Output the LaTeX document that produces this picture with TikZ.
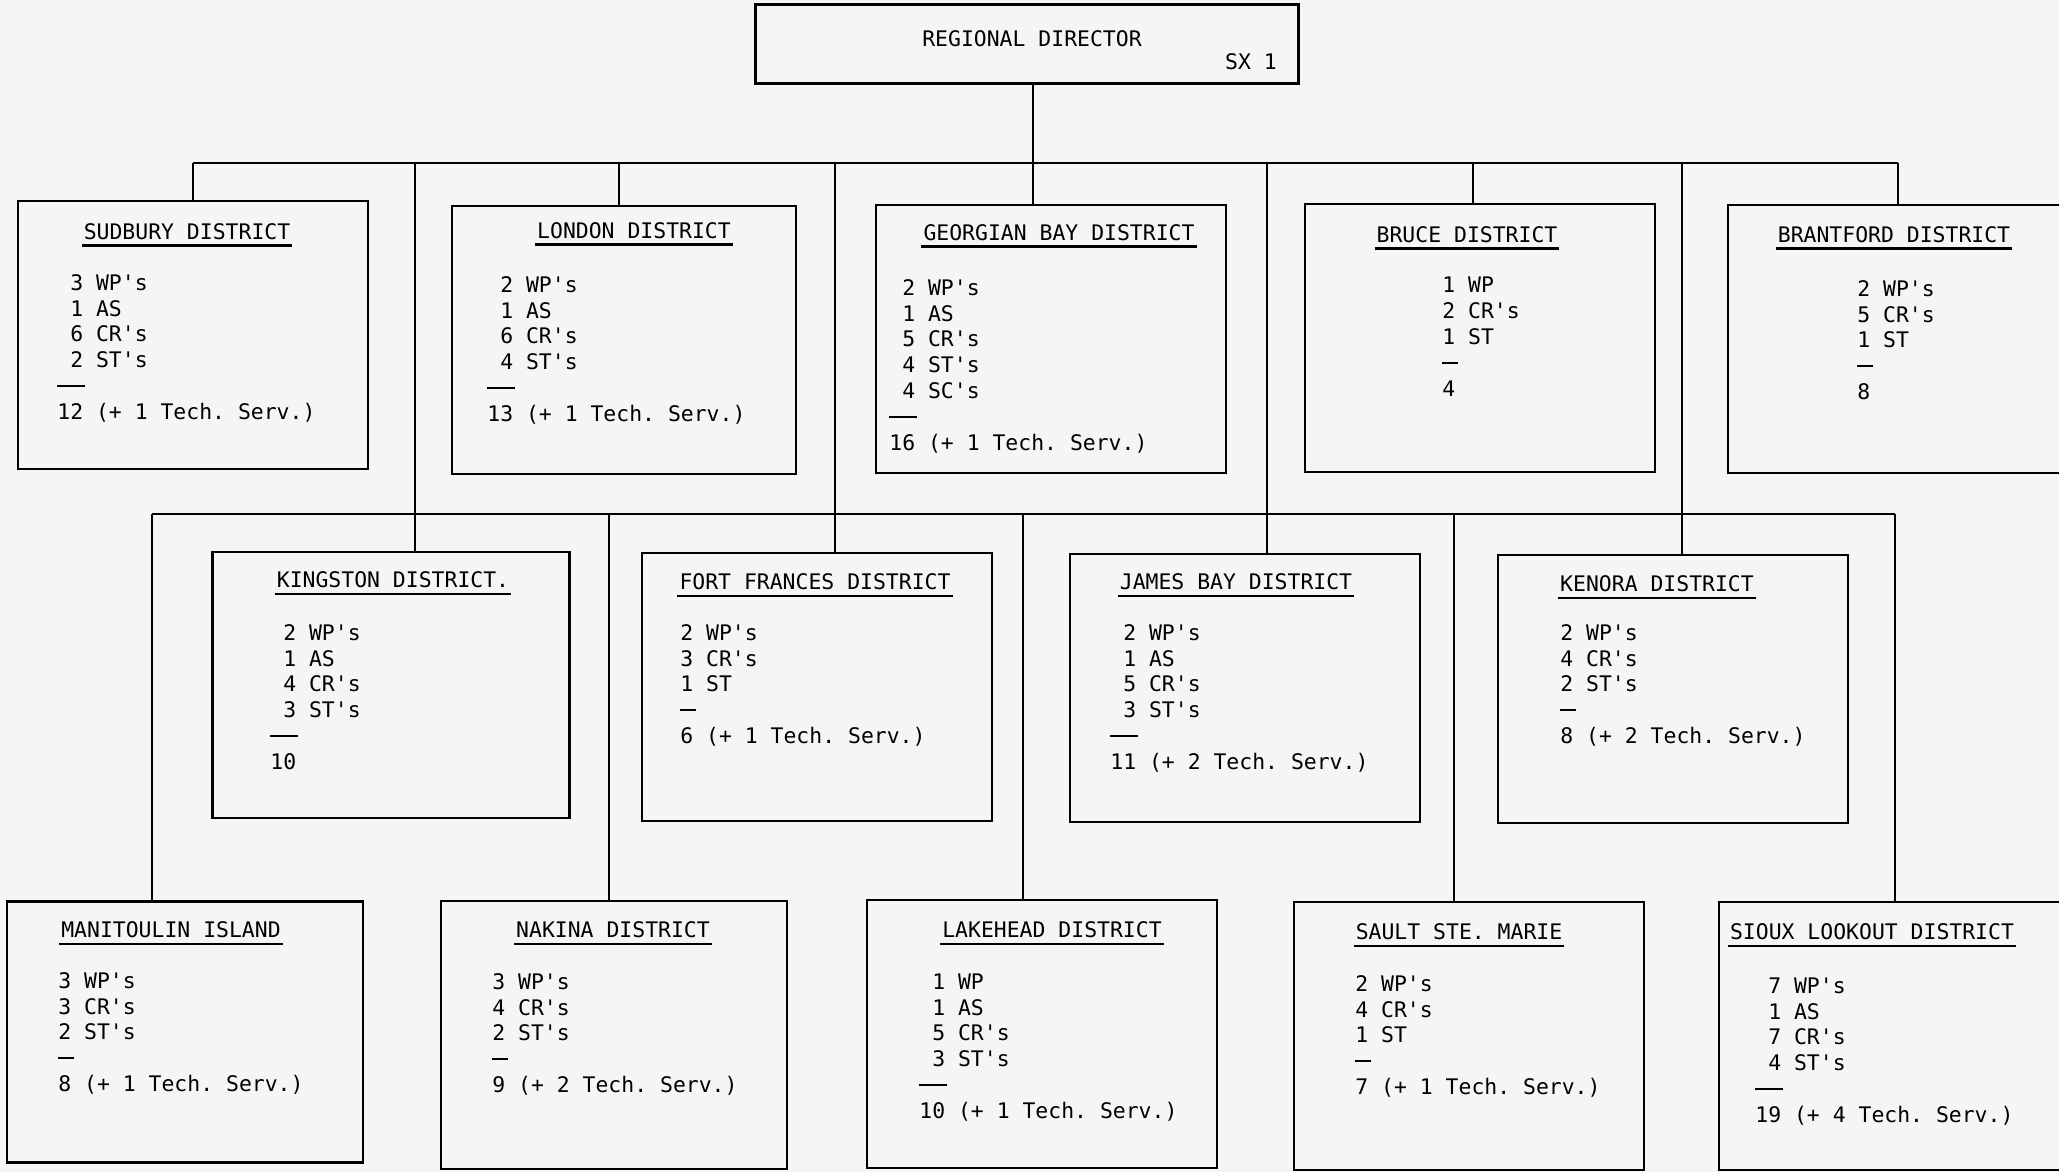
\documentclass[tikz,border=0pt]{standalone}
\usepackage{fontspec}
\setmonofont{DejaVu Sans Mono}
\usepackage{tikz}
\usetikzlibrary{positioning}

\newcommand{\digitpad}{\phantom{0}}
\newcommand{\tally}[1]{\rule[0.3em]{#1}{1.3pt}}

\begin{document}
\begin{tikzpicture}[
    x=0.02cm, y=-0.02cm,
    every node/.style={font=\ttfamily\fontsize{12.2}{14.7}\selectfont},
    box/.style={
        draw,
        line width=1.6pt,
        minimum width=7cm,
        minimum height=5.36cm
    },
    bossbox/.style={box, minimum width=10.86cm, minimum height=1.58cm},
    districtname/.style={
        inner xsep=1pt,
        inner ysep=3pt,
        append after command={(\tikzlastnode.south west) edge[line width=1.4pt] (\tikzlastnode.south east)}
    },
    staff/.style={align=left, inner sep=0pt, anchor=north west},
    link/.style={line width=1.1pt},
    bus/.style={line width=1.6pt}
]
\useasboundingbox (0,0) rectangle (2059,1172);
\fill[black!4] (0,0) rectangle (2059,1172);

\node[bossbox] (director) at (1027,44) {};
\node (directorname) at (1032,39) {REGIONAL DIRECTOR};
\node[anchor=east] (directorcode) at (1283,62) {SX 1};

\node[box] (sudbury) at (193,335) {};
\node[box, minimum width=6.88cm] (london) at (624,340) {};
\node[box] (georgian) at (1051,339) {};
\node[box] (bruce) at (1480,338) {};
\node[box] (brantford) at (1903,339) {};

\node[box, minimum width=7.14cm, minimum height=5.32cm] (kingston) at (391,685) {};
\node[box] (fortfrances) at (817,687) {};
\node[box] (jamesbay) at (1245,688) {};
\node[box] (kenora) at (1673,689) {};

\node[box, minimum width=7.12cm, minimum height=5.22cm] (manitoulin) at (185,1032) {};
\node[box, minimum width=6.92cm] (nakina) at (614,1035) {};
\node[box] (lakehead) at (1042,1034) {};
\node[box] (saultstemarie) at (1469,1036) {};
\node[box] (siouxlookout) at (1894,1036) {};

\node[districtname] (sudburyname) at (187,232) {SUDBURY DISTRICT};
\node[districtname] (londonname) at (634,231) {LONDON DISTRICT};
\node[districtname] (georgianname) at (1059,233) {GEORGIAN BAY DISTRICT};
\node[districtname] (brucename) at (1467,235) {BRUCE DISTRICT};
\node[districtname] (brantfordname) at (1894,235) {BRANTFORD DISTRICT};
\node[districtname] (kingstonname) at (393,580) {KINGSTON DISTRICT.};
\node[districtname] (fortfrancesname) at (815,582) {FORT FRANCES DISTRICT};
\node[districtname] (jamesbayname) at (1236,582) {JAMES BAY DISTRICT};
\node[districtname] (kenoraname) at (1657,584) {KENORA DISTRICT};
\node[districtname] (manitoulinname) at (171,930) {MANITOULIN ISLAND};
\node[districtname] (nakinaname) at (613,930) {NAKINA DISTRICT};
\node[districtname] (lakeheadname) at (1052,930) {LAKEHEAD DISTRICT};
\node[districtname] (saultstemariename) at (1459,932) {SAULT STE. MARIE};
\node[districtname] (siouxlookoutname) at (1872,932) {SIOUX LOOKOUT DISTRICT};

\node[staff] (sudburystaff) at (57,274) {\digitpad3 WP's\\\digitpad1 AS\\\digitpad6 CR's\\\digitpad2 ST's\\\tally{1.3em}\\12 (+ 1 Tech. Serv.)};
\node[staff] (londonstaff) at (487,276) {\digitpad2 WP's\\\digitpad1 AS\\\digitpad6 CR's\\\digitpad4 ST's\\\tally{1.3em}\\13 (+ 1 Tech. Serv.)};
\node[staff] (georgianstaff) at (889,279) {\digitpad2 WP's\\\digitpad1 AS\\\digitpad5 CR's\\\digitpad4 ST's\\\digitpad4 SC's\\\tally{1.3em}\\16 (+ 1 Tech. Serv.)};
\node[staff] (brucestaff) at (1442,277) {1 WP\\2 CR's\\1 ST\\\tally{0.75em}\\4};
\node[staff] (brantfordstaff) at (1857,280) {2 WP's\\5 CR's\\1 ST\\\tally{0.75em}\\8};
\node[staff] (kingstonstaff) at (270,624) {\digitpad2 WP's\\\digitpad1 AS\\\digitpad4 CR's\\\digitpad3 ST's\\\tally{1.3em}\\10};
\node[staff] (fortfrancesstaff) at (680,624) {2 WP's\\3 CR's\\1 ST\\\tally{0.75em}\\6 (+ 1 Tech. Serv.)};
\node[staff] (jamesbaystaff) at (1110,624) {\digitpad2 WP's\\\digitpad1 AS\\\digitpad5 CR's\\\digitpad3 ST's\\\tally{1.3em}\\11 (+ 2 Tech. Serv.)};
\node[staff] (kenorastaff) at (1560,624) {2 WP's\\4 CR's\\2 ST's\\\tally{0.75em}\\8 (+ 2 Tech. Serv.)};
\node[staff] (manitoulinstaff) at (58,972) {3 WP's\\3 CR's\\2 ST's\\\tally{0.75em}\\8 (+ 1 Tech. Serv.)};
\node[staff] (nakinastaff) at (492,973) {3 WP's\\4 CR's\\2 ST's\\\tally{0.75em}\\9 (+ 2 Tech. Serv.)};
\node[staff] (lakeheadstaff) at (919,973) {\digitpad1 WP\\\digitpad1 AS\\\digitpad5 CR's\\\digitpad3 ST's\\\tally{1.3em}\\10 (+ 1 Tech. Serv.)};
\node[staff] (saultstemariestaff) at (1355,975) {2 WP's\\4 CR's\\1 ST\\\tally{0.75em}\\7 (+ 1 Tech. Serv.)};
\node[staff] (siouxlookoutstaff) at (1755,977) {\digitpad7 WP's\\\digitpad1 AS\\\digitpad7 CR's\\\digitpad4 ST's\\\tally{1.3em}\\19 (+ 4 Tech. Serv.)};

\coordinate (dsudbury) at (193,163);
\coordinate (dkingston) at (415,163);
\coordinate (dlondon) at (619,163);
\coordinate (dfortfrances) at (835,163);
\coordinate (dgeorgian) at (1033,163);
\coordinate (djamesbay) at (1267,163);
\coordinate (dbruce) at (1473,163);
\coordinate (dkenora) at (1682,163);
\coordinate (dbrantford) at (1898,163);

\coordinate (dmanitoulin) at (152,514);
\coordinate (dnakina) at (609,514);
\coordinate (dlakehead) at (1023,514);
\coordinate (dsaultstemarie) at (1454,514);
\coordinate (dsiouxlookout) at (1895,514);

\draw[link] (dgeorgian |- director.south) -- (dgeorgian |- georgian.north);
\draw[bus] (dsudbury) -- (dbrantford);
\draw[link] (dsudbury) -- (dsudbury |- sudbury.north);
\draw[link] (dlondon) -- (dlondon |- london.north);
\draw[link] (dbruce) -- (dbruce |- bruce.north);
\draw[link] (dbrantford) -- (dbrantford |- brantford.north);
\draw[link] (dkingston) -- (dkingston |- kingston.north);
\draw[link] (dfortfrances) -- (dfortfrances |- fortfrances.north);
\draw[link] (djamesbay) -- (djamesbay |- jamesbay.north);
\draw[link] (dkenora) -- (dkenora |- kenora.north);

\draw[bus] (dmanitoulin) -- (dsiouxlookout);
\draw[link] (dmanitoulin) -- (dmanitoulin |- manitoulin.north);
\draw[link] (dnakina) -- (dnakina |- nakina.north);
\draw[link] (dlakehead) -- (dlakehead |- lakehead.north);
\draw[link] (dsaultstemarie) -- (dsaultstemarie |- saultstemarie.north);
\draw[link] (dsiouxlookout) -- (dsiouxlookout |- siouxlookout.north);
\end{tikzpicture}
\end{document}
